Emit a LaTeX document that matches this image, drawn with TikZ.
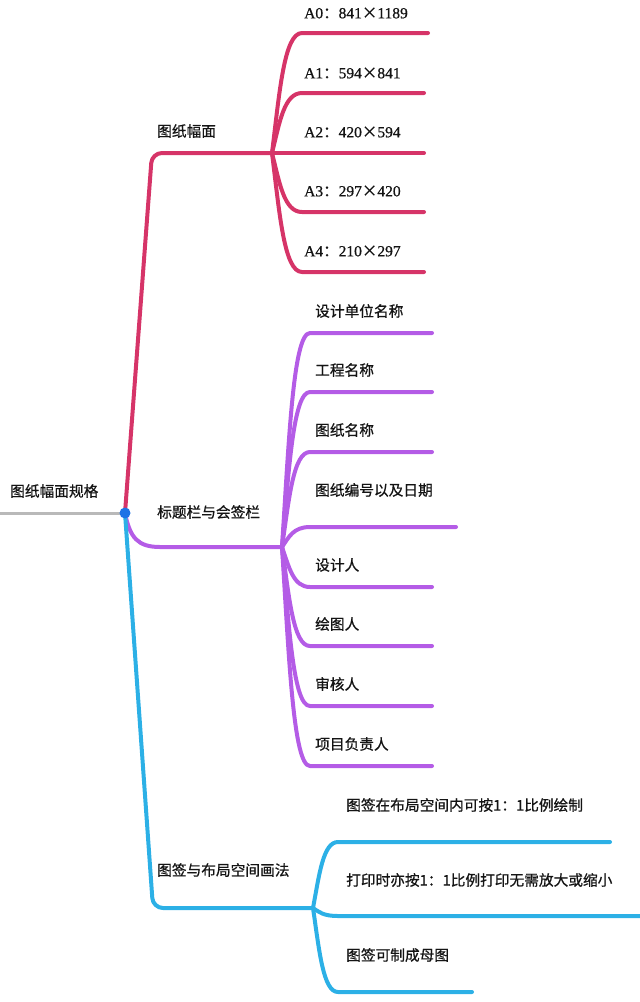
\documentclass[tikz,border=0pt]{standalone}
\usepackage{fontspec}
\setmainfont[FakeBold=0.8]{Liberation Serif}
\newfontfamily\cjk[FakeBold=0.8]{Noto Sans CJK SC}
\usetikzlibrary{calc}
\definecolor{cred}{RGB}{214,52,104}
\definecolor{cpur}{RGB}{180,92,230}
\definecolor{cblu}{RGB}{44,176,230}
\definecolor{cgry}{RGB}{185,185,185}
\definecolor{cdot}{RGB}{30,115,230}
\definecolor{ctxt}{RGB}{20,20,20}
\begin{document}
\begin{tikzpicture}[x=1pt,y=-1pt,
  br/.style={line width=4pt,line cap=round,line join=round},
  lbl/.style={anchor=west,inner sep=0pt,text=ctxt,font=\cjk\fontsize{14.7}{16}\selectfont},
  alb/.style={anchor=west,inner sep=0pt,text=ctxt,font=\fontsize{15.5}{17}\selectfont},
  leaf/.style={to path={let \p1=(\tikztostart),\p2=(\tikztotarget) in
     .. controls ({\x1+0.25*(\x2-\x1)},{0.5*(\y1+\y2)}) and ({\x1+0.4*(\x2-\x1)},\y2) .. (\tikztotarget)}}]
\useasboundingbox (0,0) rectangle (640,1002);
% key points
\coordinate (dot) at (125,513);
\coordinate (rootL) at (0,513);
\coordinate (cornR) at (152,153);
\coordinate (hubR) at (272,153);
\coordinate (bendP1) at (160,547);
\coordinate (hubP) at (282,547);
\coordinate (cornB) at (153,908);
\coordinate (hubB) at (313,908);
% red leaves
\foreach \i/\y/\e in {0/33/428,1/93/424,2/153/424,3/212/424,4/272/424}{
  \coordinate (rs\i) at (302,\y);
  \coordinate (re\i) at (\e,\y);
}
% purple leaves
\foreach \i/\y/\e in {0/333/432,1/392/432,2/452/432,3/527/456,4/587/432,5/646/432,6/706/432,7/766/432}{
  \coordinate (ps\i) at (310,\y);
  \coordinate (pe\i) at (\e,\y);
}
% blue leaves
\foreach \i/\y/\e in {0/842/610,1/916/645,2/992/472}{
  \coordinate (bs\i) at (338,\y);
  \coordinate (be\i) at (\e,\y);
}
% root line
\draw[line width=3pt,cgry] (rootL) -- (dot);
% main branches
\draw[br,cred,rounded corners=10pt] (dot) -- (cornR) -- (hubR);
\draw[br,cpur] (dot) .. controls (130,538) and (138,547) .. (bendP1) -- (hubP);
\draw[br,cblu,rounded corners=10pt] (dot) -- (cornB) -- (hubB);
% leaves
\foreach \i in {0,...,4}{ \draw[br,cred] (hubR) to[leaf] (rs\i) -- (re\i); }
\foreach \i in {0,...,7}{ \draw[br,cpur] (hubP) to[leaf] (ps\i) -- (pe\i); }
\foreach \i in {0,...,2}{ \draw[br,cblu] (hubB) to[leaf] (bs\i) -- (be\i); }
% dot
\fill[cdot] (dot) circle (5.5);
% labels
\node[lbl] (root) at (10,491) {图纸幅面规格};
\node[lbl] (tzfm) at (157,131) {图纸幅面};
\node[alb] (a0) at (304,13) {A0{\cjk ：}841{\cjk ×}1189};
\node[alb] (a1) at (304,73) {A1{\cjk ：}594{\cjk ×}841};
\node[alb] (a2) at (304,132) {A2{\cjk ：}420{\cjk ×}594};
\node[alb] (a3) at (304,191) {A3{\cjk ：}297{\cjk ×}420};
\node[alb] (a4) at (304,251) {A4{\cjk ：}210{\cjk ×}297};
\node[lbl] (btl) at (157,512) {标题栏与会签栏};
\node[lbl] (p0) at (315,311) {设计单位名称};
\node[lbl] (p1) at (315,370) {工程名称};
\node[lbl] (p2) at (315,430) {图纸名称};
\node[lbl] (p3) at (315,490) {图纸编号以及日期};
\node[lbl] (p4) at (315,565) {设计人};
\node[lbl] (p5) at (315,624) {绘图人};
\node[lbl] (p6) at (315,684) {审核人};
\node[lbl] (p7) at (315,744) {项目负责人};
\node[lbl] (tq) at (157,870) {图签与布局空间画法};
\node[lbl] (b0) at (346,805) {图签在布局空间内可按1：1比例绘制};
\node[lbl] (b1) at (346,880) {打印时亦按1：1比例打印无需放大或缩小};
\node[lbl] (b2) at (346,955) {图签可制成母图};
\end{tikzpicture}
\end{document}
